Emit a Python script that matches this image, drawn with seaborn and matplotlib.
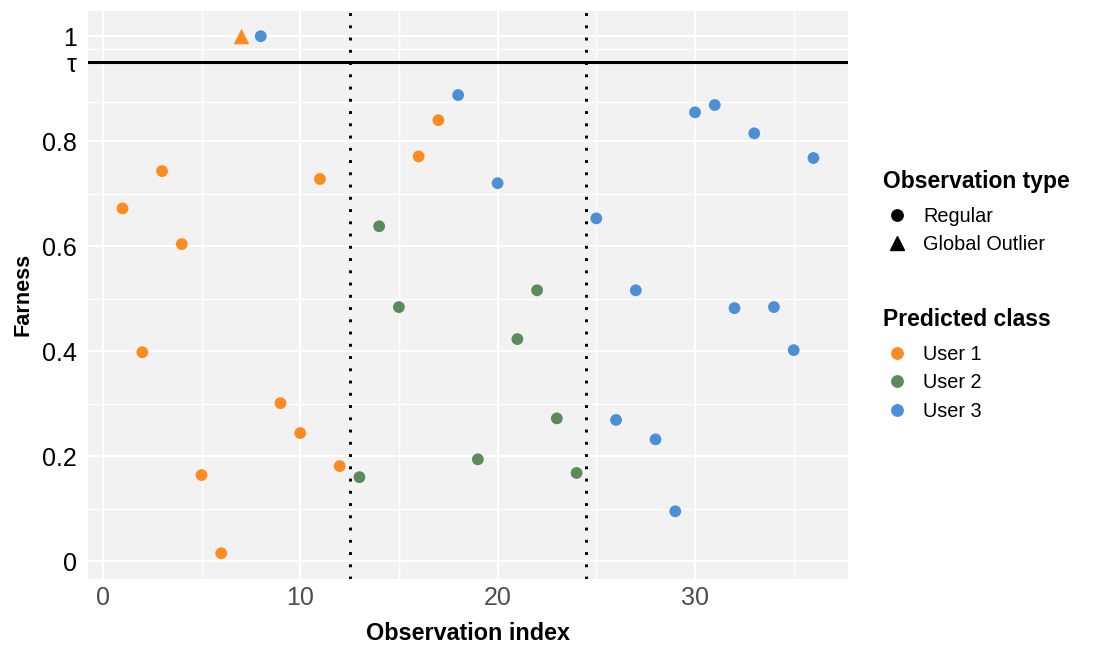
import matplotlib
matplotlib.use("Agg")
import matplotlib.pyplot as plt
from matplotlib.lines import Line2D
import pandas as pd
import seaborn as sns

# values
obs_index = [1, 2, 3, 4, 5, 6, 7, 8, 9, 10, 11, 12, 13, 14, 15, 16, 17, 18,
             19, 20, 21, 22, 23, 24, 25, 26, 27, 28, 29, 30, 31, 32, 33, 34, 35, 36]
farness = [0.672, 0.398, 0.743, 0.604, 0.164, 0.015, 1.000, 1.000, 0.301,
           0.244, 0.728, 0.181, 0.160, 0.638, 0.484, 0.771, 0.840, 0.888,
           0.194, 0.720, 0.423, 0.516, 0.272, 0.168, 0.653, 0.269, 0.516,
           0.232, 0.095, 0.855, 0.869, 0.482, 0.815, 0.484, 0.402, 0.768]
predicted = (["User 1"] * 7 + ["User 3"] + ["User 1"] * 4 + ["User 2"] * 3
             + ["User 1"] * 2 + ["User 3"] + ["User 2"] + ["User 3"]
             + ["User 2"] * 4 + ["User 3"] * 12)
obs_type = ["Regular"] * 6 + ["Global Outlier"] + ["Regular"] * 29

tau = 0.95
boundaries = [12.5, 24.5]

classes = ["User 1", "User 2", "User 3"]
class_colors = ["#FD8B20", "#5B8B5B", "#4B90D6"]
types = ["Regular", "Global Outlier"]
type_markers = ["o", "^"]

y_ticks = [0, 0.2, 0.4, 0.6, 0.8, tau, 1]
y_labels = ["0", "0.2", "0.4", "0.6", "0.8", "τ", "1"]
y_minor = [0.1, 0.3, 0.5, 0.7, 0.875, 0.975]
x_ticks = [0, 10, 20, 30]
x_minor = [5, 15, 25, 35]

df = pd.DataFrame({
    "index": obs_index,
    "farness": farness,
    "cls": predicted,
    "type": obs_type,
})
palette = dict(zip(classes, class_colors))

sns.set_theme(style="white")
plt.rcParams["font.family"] = ["Liberation Sans", "DejaVu Sans"]
plt.rcParams["text.color"] = "black"
plt.rcParams["axes.labelcolor"] = "black"

fig = plt.figure(figsize=(10.95, 6.57), dpi=100)
ax = fig.add_axes([88 / 1095, 1 - 579 / 657, (848 - 88) / 1095, (579 - 10.5) / 657])
ax.set_facecolor("#F2F2F2")

# grid
for v in y_minor:
    ax.axhline(v, color="white", lw=1.0, zorder=0)
for v in x_minor:
    ax.axvline(v, color="white", lw=1.0, zorder=0)
for v in y_ticks:
    ax.axhline(v, color="white", lw=1.5, zorder=0)
for v in x_ticks:
    ax.axvline(v, color="white", lw=1.5, zorder=0)

ax.axhline(tau, color="black", lw=2.2, zorder=1)
for b in boundaries:
    ax.axvline(b, color="black", lw=2.1, linestyle=(0, (1, 3.2)),
               dash_capstyle="butt", zorder=1)

regular = df[df["type"] == "Regular"]
outlier = df[df["type"] == "Global Outlier"]
sns.scatterplot(data=regular, x="index", y="farness", hue="cls", palette=palette,
                marker="o", s=72, linewidth=0, legend=False, ax=ax, zorder=3)
sns.scatterplot(data=outlier, x="index", y="farness", hue="cls", palette=palette,
                marker="^", s=125, linewidth=0, legend=False, ax=ax, zorder=3)

ax.set_xlim(-0.75, 37.75)
ax.set_ylim(-0.034, 1.049)
ax.set_xticks(x_ticks)
ax.set_xticklabels([str(t) for t in x_ticks])
ax.set_yticks(y_ticks)
ax.set_yticklabels(y_labels)
ax.tick_params(axis="x", length=0, pad=5, labelsize=18, labelcolor="#4D4D4D")
ax.tick_params(axis="y", length=0, pad=8, labelsize=18, labelcolor="black")
for s in ax.spines.values():
    s.set_visible(False)

ax.set_xlabel("Observation index", fontsize=16.8, fontweight="bold", labelpad=9)
ax.set_ylabel("Farness", fontsize=15.6, fontweight="bold", labelpad=6)

# legends
type_handles = [Line2D([], [], marker=m, color="black", linestyle="",
                       markersize=ms)
                for m, ms in zip(type_markers, [8.2, 9.5])]
class_handles = [Line2D([], [], marker="o", color=c, linestyle="", markersize=8.2)
                 for c in class_colors]

leg_kw = dict(loc="upper left", frameon=False, alignment="left", borderpad=0,
              handlelength=1.41, handletextpad=0.62, labelspacing=0.47,
              fontsize=14.3, borderaxespad=0,
              title_fontproperties={"weight": "bold", "size": 16.5})
leg1 = fig.legend(type_handles, types, title="Observation type",
                  bbox_to_anchor=(882.7 / 1095, 1 - 170 / 657), **leg_kw)
leg2 = fig.legend(class_handles, classes, title="Predicted class",
                  bbox_to_anchor=(882.7 / 1095, 1 - 308 / 657), **leg_kw)
for leg in (leg1, leg2):
    leg._legend_box.sep = 10

fig.savefig("out.png", dpi=100)
